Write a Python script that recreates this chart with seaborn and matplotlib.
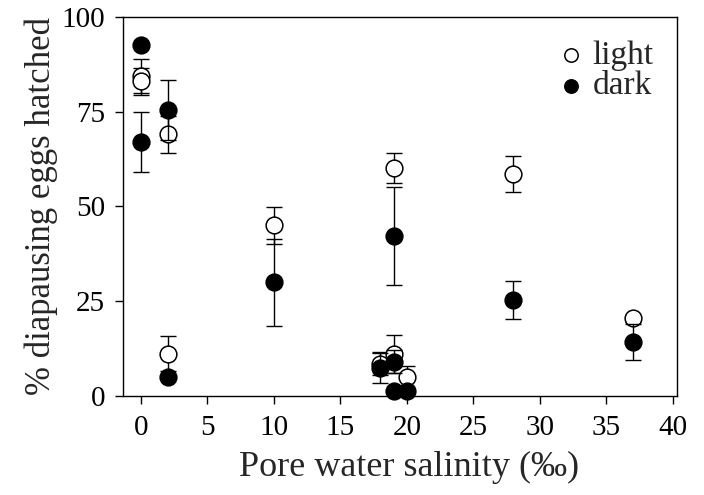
import numpy as np
import matplotlib
matplotlib.use("Agg")
import matplotlib.pyplot as plt
import pandas as pd
import seaborn as sns

# Data
light_x = [0, 0, 2, 2, 10, 18, 19, 19, 20, 28, 37]
light_y = [84.5, 83, 69, 11.2, 45, 8.5, 60.2, 11, 5, 58.5, 20.5]
light_err = [4.5, 3.5, 5, 4.5, 4.8, 3, 4, 5, 3, 4.7, 1]

dark_x = [0, 0, 2, 2, 10, 18, 19, 19, 19, 20, 28, 37]
dark_y = [92.5, 67, 75.5, 5, 30, 7.3, 42.2, 9.1, 1.3, 1.3, 25.3, 14.3]
dark_err = [0, 8, 8, 0, 11.5, 4, 13, 3, 0, 0, 5, 4.8]

x_ticks = [0, 5, 10, 15, 20, 25, 30, 35, 40]
y_ticks = [0, 25, 50, 75, 100]

light = pd.DataFrame({"salinity": light_x, "hatched": light_y, "err": light_err})
dark = pd.DataFrame({"salinity": dark_x, "hatched": dark_y, "err": dark_err})

sns.set_style("ticks")
plt.rcParams["font.family"] = ["Liberation Serif", "DejaVu Serif"]
plt.rcParams["xtick.direction"] = "out"
plt.rcParams["ytick.direction"] = "out"

fig = plt.figure(figsize=(7.04, 4.95), dpi=100)
ax = fig.add_axes([0.1747, 0.2, 0.7869, 0.7657])

# light series
ax.errorbar(light["salinity"], light["hatched"], yerr=light["err"], fmt="none",
            ecolor="black", elinewidth=1, capsize=6, capthick=1, zorder=2)
sns.scatterplot(data=light, x="salinity", y="hatched", ax=ax, s=145,
                facecolor="white", edgecolor="black", linewidth=1.1,
                label="light", zorder=3, clip_on=False)

# dark series
ax.errorbar(dark["salinity"], dark["hatched"], yerr=dark["err"], fmt="none",
            ecolor="black", elinewidth=1, capsize=6, capthick=1, zorder=4)
sns.scatterplot(data=dark, x="salinity", y="hatched", ax=ax, s=145,
                color="black", edgecolor="black", linewidth=1.1,
                label="dark", zorder=5, clip_on=False)

ax.set_xlim(-1.35, 40.3)
ax.set_ylim(0, 100)
ax.set_xticks(x_ticks)
ax.set_yticks(y_ticks)
ax.tick_params(labelsize=21, length=6, width=1, colors="black")
ax.tick_params(axis="x", pad=8)
ax.tick_params(axis="y", pad=7)
for sp in ax.spines.values():
    sp.set_visible(True)
    sp.set_linewidth(1)
    sp.set_color("black")

ax.set_xlabel("Pore water salinity (‰)", fontsize=26)
ax.set_ylabel("% diapausing eggs hatched", fontsize=25)
ax.xaxis.set_label_coords(0.516, -0.145)
ax.yaxis.set_label_coords(-0.118, 0.5)

leg = ax.legend(loc="upper right", frameon=False, fontsize=24,
                handletextpad=0.05, labelspacing=0.0, markerscale=0.8,
                borderaxespad=0.3, handlelength=1.2)

fig.savefig("out.png", dpi=100)
